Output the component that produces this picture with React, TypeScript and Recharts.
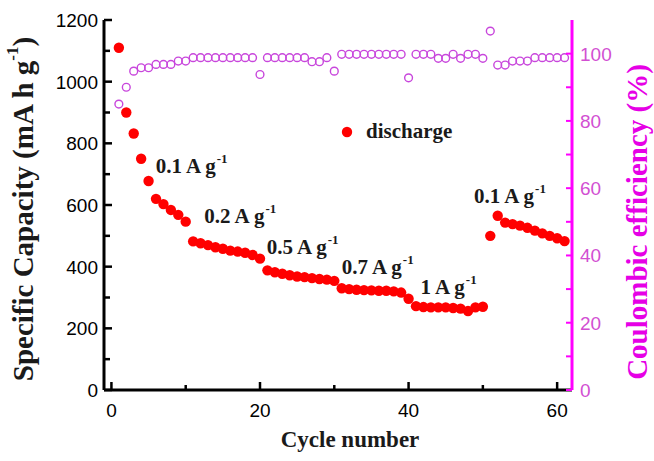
import React from 'react';
import { ComposedChart, Scatter, XAxis, YAxis, Legend } from 'recharts';

const cycles = [
  1, 2, 3, 4, 5, 6, 7, 8, 9, 10,
  11, 12, 13, 14, 15, 16, 17, 18, 19, 20,
  21, 22, 23, 24, 25, 26, 27, 28, 29, 30,
  31, 32, 33, 34, 35, 36, 37, 38, 39, 40,
  41, 42, 43, 44, 45, 46, 47, 48, 49, 50,
  51, 52, 53, 54, 55, 56, 57, 58, 59, 60, 61,
];

const dischargeCapacity = [
  1110, 900, 832, 750, 678, 620, 603, 584, 568, 546,
  482, 476, 470, 463, 458, 452, 449, 445, 438, 426,
  388, 382, 377, 372, 368, 366, 363, 360, 358, 354,
  330, 327, 325, 324, 323, 322, 322, 320, 316, 296,
  272, 269, 268, 268, 268, 266, 264, 256, 268, 270,
  500, 565, 543, 538, 533, 526, 517, 508, 500, 492, 483,
];

const coulombicEfficiency = [
  85, 90, 94.8, 95.8, 95.8, 96.8, 96.8, 96.8, 97.8, 97.8,
  98.8, 98.8, 98.8, 98.8, 98.8, 98.8, 98.8, 98.8, 98.8, 93.8,
  98.8, 98.8, 98.8, 98.8, 98.8, 98.8, 97.6, 97.6, 98.8, 94.8,
  99.8, 99.8, 99.8, 99.8, 99.8, 99.8, 99.8, 99.8, 99.8, 92.8,
  99.8, 99.8, 99.8, 98.6, 98.6, 99.8, 98.6, 99.8, 99.8, 98.6,
  106.7, 96.6, 96.6, 97.8, 97.8, 97.8, 98.8, 98.8, 98.8, 98.8, 98.8,
];

const xTicks = [0, 10, 20, 30, 40, 50, 60];
const xLabelTicks = [0, 20, 40, 60];
const capacityTicks = [0, 100, 200, 300, 400, 500, 600, 700, 800, 900, 1000, 1100, 1200];
const capacityLabelTicks = [0, 200, 400, 600, 800, 1000, 1200];
const ceTicks = [0, 10, 20, 30, 40, 50, 60, 70, 80, 90, 100];
const ceLabelTicks = [0, 20, 40, 60, 80, 100];

const rateLabels = ['0.1 A g', '0.2 A g', '0.5 A g', '0.7 A g', '1 A g', '0.1 A g'];
const rateLabelCycles = [5.95, 12.5, 20.9, 31, 41.6, 48.8];
const rateLabelCapacities = [704, 541, 441, 375, 311, 607];

const dischargeData = cycles.map((c, i) => ({ cycle: c, value: dischargeCapacity[i] }));
const ceData = cycles.map((c, i) => ({ cycle: c, value: coulombicEfficiency[i] }));
const rateData = rateLabels.map((t, i) => ({ cycle: rateLabelCycles[i], value: rateLabelCapacities[i], text: t }));

const SERIF = '"Liberation Serif", "Times New Roman", serif';
const SANS = '"Liberation Sans", Arial, sans-serif';
const MAGENTA = '#ff00ff';
const CE_COLOR = '#c846dc';
const RIGHT_TICK_COLOR = '#d24fd2';

const RedDot = (p: any) => <circle cx={p.cx} cy={p.cy} r={5.2} fill="#ff0000" />;
const OpenDot = (p: any) => (
  <circle cx={p.cx} cy={p.cy} r={3.9} fill="none" stroke={CE_COLOR} strokeWidth={1.4} />
);
const RateLabel = (p: any) => (
  <text x={p.cx} y={p.cy} fontFamily={SERIF} fontWeight="bold" fontSize={21} fill="#1a1a1a">
    {p.payload.text}
    <tspan dx={1} dy={-10} fontSize={13}>-1</tspan>
  </text>
);

const XTick = (p: any) => {
  const v = p.payload.value;
  const major = xLabelTicks.includes(v);
  return (
    <g>
      <line x1={p.x} x2={p.x} y1={p.y} y2={p.y - (major ? 8 : 5)} stroke="#000" strokeWidth={2.5} />
      {major && (
        <text x={p.x} y={p.y + 27} textAnchor="middle" fontFamily={SANS} fontSize={19} fill="#000">
          {v}
        </text>
      )}
    </g>
  );
};

const LeftTick = (p: any) => {
  const v = p.payload.value;
  const major = capacityLabelTicks.includes(v);
  return (
    <g>
      <line x1={p.x} x2={p.x + (major ? 8 : 6)} y1={p.y} y2={p.y} stroke="#000" strokeWidth={2.5} />
      {major && (
        <text x={p.x - 6} y={p.y + 7} textAnchor="end" fontFamily={SANS} fontSize={19} fill="#000">
          {v}
        </text>
      )}
    </g>
  );
};

const RightTick = (p: any) => {
  const v = p.payload.value;
  const major = ceLabelTicks.includes(v);
  return (
    <g>
      <line x1={p.x} x2={p.x - 6} y1={p.y} y2={p.y} stroke={MAGENTA} strokeWidth={2} />
      {major && (
        <text x={p.x + 8} y={p.y + 7} textAnchor="start" fontFamily={SANS} fontSize={19} fill={RIGHT_TICK_COLOR}>
          {v}
        </text>
      )}
    </g>
  );
};

const XTitle = () => (
  <text x={350} y={447} textAnchor="middle" fontFamily={SERIF} fontWeight="bold" fontSize={23} fill="#1a1a1a">
    Cycle number
  </text>
);

const LeftTitle = () => (
  <text
    x={23}
    y={209}
    transform="rotate(-90, 23, 209)"
    textAnchor="middle"
    dominantBaseline="central"
    fontFamily={SERIF}
    fontWeight="bold"
    fontSize={29}
    fill="#1a1a1a"
  >
    Specific Capacity (mA h g
    <tspan dy={-11} fontSize={17}>-1</tspan>
    <tspan dy={11}>)</tspan>
  </text>
);

const RightTitle = () => (
  <text
    x={637}
    y={222}
    transform="rotate(-90, 637, 222)"
    textAnchor="middle"
    dominantBaseline="central"
    fontFamily={SERIF}
    fontWeight="bold"
    fontSize={29}
    fill="#e600e6"
  >
    Coulombic efficiency (%)
  </text>
);

const LegendContent = () => (
  <div style={{ display: 'flex', alignItems: 'center', fontFamily: SERIF, fontWeight: 'bold', fontSize: 21, color: '#1a1a1a' }}>
    <svg width={14} height={14} style={{ marginRight: 12 }}>
      <circle cx={7} cy={7} r={5.2} fill="#ff0000" />
    </svg>
    <span>discharge</span>
  </div>
);

export default function App() {
  return (
    <div style={{ position: 'absolute', left: 0, top: 0 }}>
      <ComposedChart width={654} height={461} margin={{ top: 20, right: 0, bottom: 0, left: 0 }}>
        <XAxis
          xAxisId="x"
          dataKey="cycle"
          type="number"
          domain={[-1, 62]}
          ticks={xTicks}
          interval={0}
          height={71}
          tickSize={0}
          tickMargin={0}
          tickLine={false}
          tick={<XTick />}
          axisLine={{ stroke: '#000', strokeWidth: 3 }}
          label={<XTitle />}
        />
        <XAxis
          xAxisId="top"
          orientation="top"
          type="number"
          domain={[-1, 62]}
          height={0}
          tick={false}
          tickLine={false}
          axisLine={{ stroke: '#000', strokeWidth: 3 }}
        />
        <YAxis
          yAxisId="left"
          type="number"
          domain={[0, 1200]}
          ticks={capacityTicks}
          interval={0}
          width={104}
          tickSize={0}
          tickMargin={0}
          tickLine={false}
          tick={<LeftTick />}
          axisLine={{ stroke: '#000', strokeWidth: 3 }}
          label={<LeftTitle />}
        />
        <YAxis
          yAxisId="right"
          orientation="right"
          type="number"
          domain={[0, 110]}
          ticks={ceTicks}
          interval={0}
          width={82}
          tickSize={0}
          tickMargin={0}
          tickLine={false}
          tick={<RightTick />}
          axisLine={{ stroke: MAGENTA, strokeWidth: 3 }}
          label={<RightTitle />}
        />
        <Legend
          layout="horizontal"
          verticalAlign="middle"
          align="center"
          wrapperStyle={{ left: 340, top: 119, width: 'auto', height: 'auto' }}
          content={<LegendContent />}
        />
        <Scatter
          name="coulombic efficiency"
          xAxisId="x"
          yAxisId="right"
          data={ceData}
          dataKey="value"
          shape={OpenDot}
          isAnimationActive={false}
        />
        <Scatter
          name="discharge"
          xAxisId="x"
          yAxisId="left"
          data={dischargeData}
          dataKey="value"
          shape={RedDot}
          isAnimationActive={false}
        />
        <Scatter
          name="rates"
          xAxisId="x"
          yAxisId="left"
          data={rateData}
          dataKey="value"
          shape={RateLabel}
          legendType="none"
          isAnimationActive={false}
        />
      </ComposedChart>
    </div>
  );
}
